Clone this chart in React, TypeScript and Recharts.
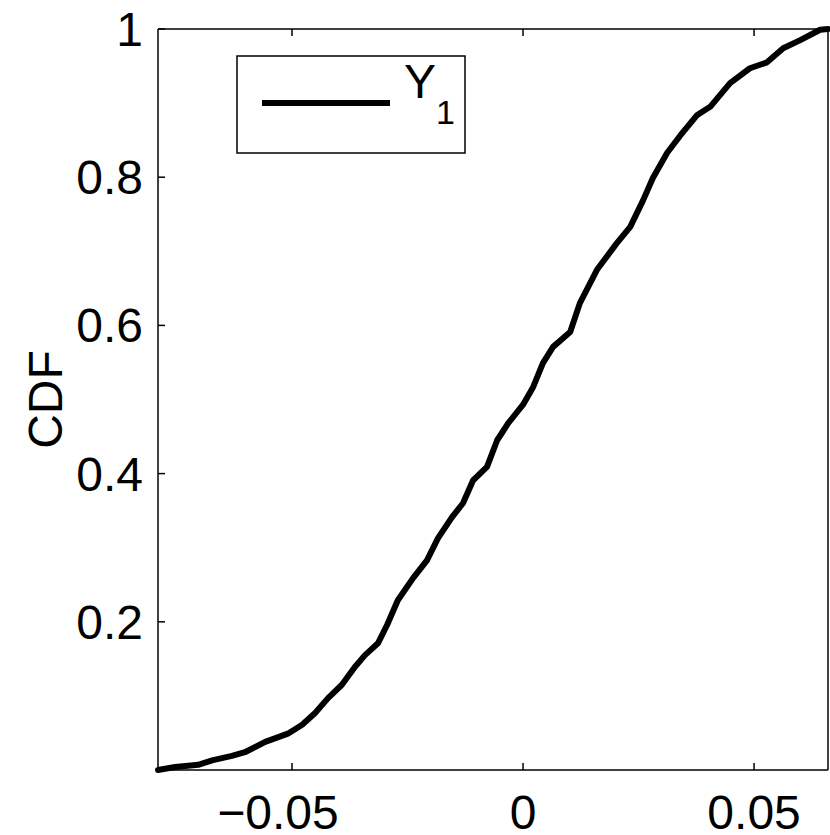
import React from 'react';
import { LineChart, Line, XAxis, YAxis, Legend } from 'recharts';

const cdfX = [
  -0.079, -0.0753, -0.0703, -0.0673, -0.063, -0.0602, -0.0558, -0.0509, -0.0478, -0.045,
  -0.0422, -0.0392, -0.0364, -0.0342, -0.0314, -0.0294, -0.0271, -0.0238, -0.0208, -0.0184,
  -0.0154, -0.013, -0.0108, -0.0078, -0.0056, -0.0032, 0.0, 0.0022, 0.0043, 0.0065,
  0.0102, 0.0123, 0.016, 0.0203, 0.0232, 0.026, 0.0281, 0.0312, 0.034, 0.0377,
  0.0405, 0.0448, 0.0491, 0.0528, 0.0563, 0.06, 0.0643, 0.066,
];
const cdfY = [
  0.0, 0.004, 0.007, 0.013, 0.019, 0.024, 0.038, 0.049, 0.061, 0.077,
  0.097, 0.115, 0.139, 0.155, 0.171, 0.196, 0.229, 0.259, 0.283, 0.313,
  0.341, 0.36, 0.391, 0.409, 0.445, 0.468, 0.493, 0.517, 0.549, 0.571,
  0.591, 0.63, 0.675, 0.711, 0.733, 0.769, 0.799, 0.833, 0.856, 0.884,
  0.895, 0.927, 0.947, 0.955, 0.974, 0.985, 0.999, 1.0,
];

const xTicks = [-0.05, 0, 0.05];
const yTicks = [0.2, 0.4, 0.6, 0.8, 1];
const xDomain = [-0.079, 0.066];
const yDomain = [0, 1];
const yLabel = 'CDF';
const seriesName = 'Y';
const seriesSub = '1';

const data = cdfX.map((x, i) => ({ x, y: cdfY[i] }));

const FONT = '"Liberation Sans", Arial, Helvetica, sans-serif';
const TICK_LEN = 7;
const fmt = (v: number) => String(v).replace('-', '\u2212');

const BottomTick = (props: any) => {
  const { x, y, payload } = props;
  const v = payload.value;
  const neg = v < 0;
  return (
    <g>
      <line x1={x} x2={x} y1={y} y2={y - TICK_LEN} stroke="#000" strokeWidth={1.5} />
      <text
        x={neg ? x + 46.7 : x}
        y={y + 25}
        dy="0.71em"
        textAnchor={neg ? 'end' : 'middle'}
        fontSize={48}
        fontFamily={FONT}
        fill="#000"
      >
        {fmt(v)}
      </text>
    </g>
  );
};

const TopTick = (props: any) => {
  const { x, y } = props;
  return <line x1={x} x2={x} y1={y} y2={y + TICK_LEN} stroke="#000" strokeWidth={1.5} />;
};

const LeftTick = (props: any) => {
  const { x, y, payload } = props;
  return (
    <g>
      <line x1={x} x2={x + TICK_LEN} y1={y} y2={y} stroke="#000" strokeWidth={1.5} />
      <text x={x - 15} y={y} dy="0.355em" textAnchor="end" fontSize={48} fontFamily={FONT} fill="#000">
        {fmt(payload.value)}
      </text>
    </g>
  );
};

const RightTick = (props: any) => {
  const { x, y } = props;
  return <line x1={x} x2={x - TICK_LEN} y1={y} y2={y} stroke="#000" strokeWidth={1.5} />;
};

const LegendBox = () => (
  <svg width={231} height={100} style={{ display: 'block' }}>
    <rect x={1} y={1} width={228} height={97} fill="#fff" stroke="#000" strokeWidth={1.5} />
    <line x1={26} x2={154} y1={48} y2={48} stroke="#000" strokeWidth={6} />
    <text x={168} y={43} fontSize={48} fontFamily={FONT} fill="#000">{seriesName}</text>
    <text x={200} y={69} fontSize={34} fontFamily={FONT} fill="#000">{seriesSub}</text>
  </svg>
);

const axisLine = { stroke: '#000', strokeWidth: 1.5 };

export default function App() {
  return (
    <div style={{ position: 'absolute', left: 0, top: 0, background: '#fff' }}>
      <LineChart width={830} height={835} data={data} margin={{ top: 0, right: 0, bottom: 0, left: 0 }}>
        <XAxis
          xAxisId="bottom"
          dataKey="x"
          type="number"
          domain={xDomain}
          ticks={xTicks}
          orientation="bottom"
          height={65}
          axisLine={axisLine}
          tickLine={false}
          tickSize={0}
          tickMargin={0}
          tick={<BottomTick />}
          interval={0}
        />
        <XAxis
          xAxisId="top"
          dataKey="x"
          type="number"
          domain={xDomain}
          ticks={xTicks}
          orientation="top"
          height={29}
          axisLine={axisLine}
          tickLine={false}
          tickSize={0}
          tickMargin={0}
          tick={<TopTick />}
          interval={0}
        />
        <YAxis
          yAxisId="left"
          type="number"
          domain={yDomain}
          ticks={yTicks}
          orientation="left"
          width={158}
          axisLine={axisLine}
          tickLine={false}
          tickSize={0}
          tickMargin={0}
          tick={<LeftTick />}
          interval={0}
          label={{
            value: yLabel,
            angle: -90,
            position: 'insideLeft',
            offset: 0,
            content: (p: any) => {
              const vb = p.viewBox || {};
              const cy = (vb.y ?? 0) + (vb.height ?? 0) / 2;
              return (
                <text
                  x={62}
                  y={cy}
                  transform={`rotate(-90 62 ${cy})`}
                  textAnchor="middle"
                  fontSize={48}
                  fontFamily={FONT}
                  fill="#000"
                >
                  {yLabel}
                </text>
              );
            },
          }}
        />
        <YAxis
          yAxisId="right"
          type="number"
          domain={yDomain}
          ticks={yTicks}
          orientation="right"
          width={2}
          axisLine={axisLine}
          tickLine={false}
          tickSize={0}
          tickMargin={0}
          tick={<RightTick />}
          interval={0}
        />
        <Legend
          layout="horizontal"
          verticalAlign="middle"
          align="center"
          wrapperStyle={{ position: 'absolute', left: 236, top: 55, width: 231, height: 100 }}
          content={() => <LegendBox />}
        />
        <Line
          xAxisId="bottom"
          yAxisId="left"
          type="linear"
          dataKey="y"
          name="Y1"
          stroke="#000"
          strokeWidth={6}
          strokeLinejoin="round"
          strokeLinecap="round"
          dot={false}
          isAnimationActive={false}
        />
      </LineChart>
    </div>
  );
}
